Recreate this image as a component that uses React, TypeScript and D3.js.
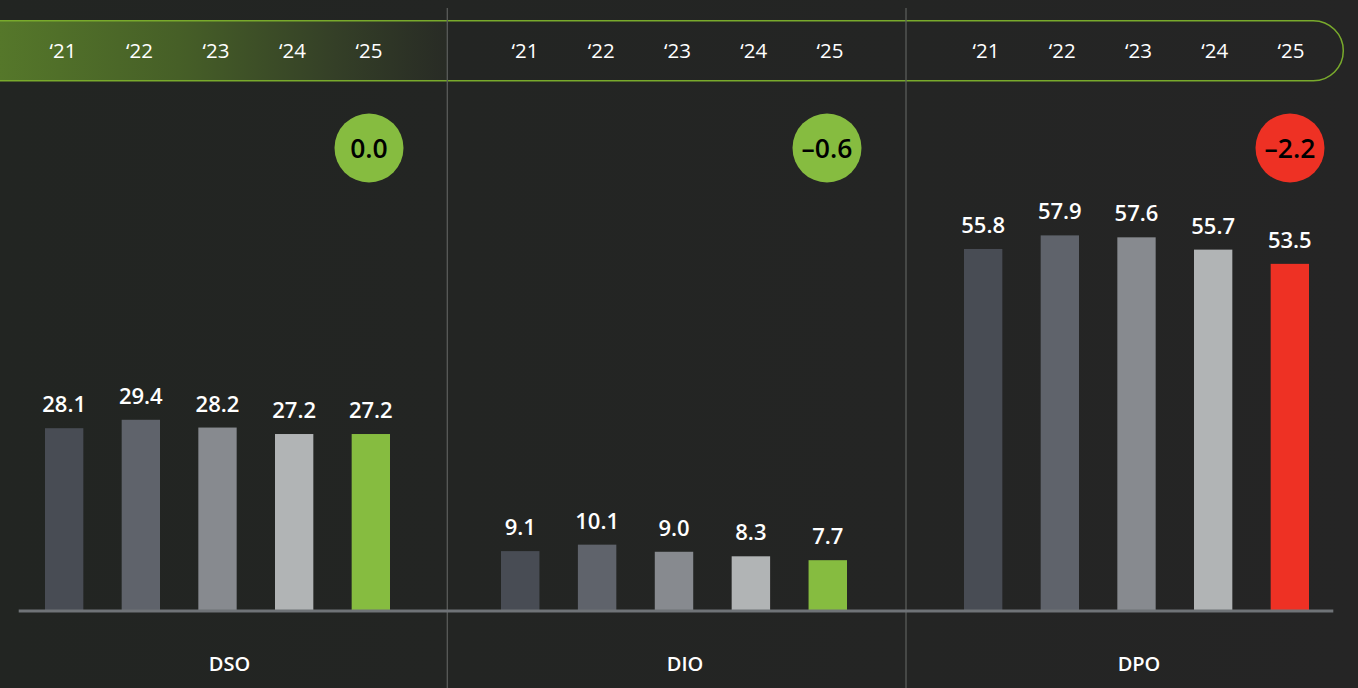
import React from "react";
import * as d3 from "d3";

// ---- data ----
const years = ["\u201821", "\u201822", "\u201823", "\u201824", "\u201825"];
const metrics = ["DSO", "DIO", "DPO"];
const dsoValues = [28.1, 29.4, 28.2, 27.2, 27.2];
const dioValues = [9.1, 10.1, 9.0, 8.3, 7.7];
const dpoValues = [55.8, 57.9, 57.6, 55.7, 53.5];
const changes = [0.0, -0.6, -2.2];

// ---- styles / layout ----
const W = 1358;
const H = 688;
const BG = "#232423";
const GREEN = "#86bc40";
const RED = "#ee3124";
const yearColors = ["#484c54", "#5f636b", "#878a8f", "#b1b4b5"];
const highlight = [GREEN, GREEN, RED];
const FONT = "'Open Sans', 'Noto Sans', sans-serif";

const panels = [
  { bars: [45, 390], head: [63, 369], label: 229.5, bubble: 369 },
  { bars: [501, 847], head: [525, 830], label: 685, bubble: 827 },
  { bars: [964, 1309], head: [986, 1291], label: 1139, bubble: 1290 },
];
const dividers = [447.3, 906];
const baseY = 610;

const y = d3.scaleLinear().domain([0, 80]).range([baseY, baseY - 80 * 6.47]);

const fmtChange = (v: number) => {
  const s = d3.format(".1f")(Math.abs(v));
  return v < 0 ? "\u2013" + s : s;
};

export default function App() {
  const seriesList = [dsoValues, dioValues, dpoValues];
  return (
    <svg
      width={W}
      height={H}
      style={{ position: "absolute", left: 0, top: 0, display: "block", background: BG }}
      fontFamily={FONT}
    >
      <defs>
        <linearGradient id="bandGrad" gradientUnits="userSpaceOnUse" x1={0} y1={0} x2={447} y2={0}>
          <stop offset="0" stopColor="#55772a" />
          <stop offset="0.4" stopColor="#465f27" />
          <stop offset="0.75" stopColor="#343f27" />
          <stop offset="1" stopColor="#282b25" />
        </linearGradient>
        <linearGradient id="bgGrad" x1="0" y1="0" x2="1" y2="0">
          <stop offset="0" stopColor="#222522" />
          <stop offset="1" stopColor="#252525" />
        </linearGradient>
      </defs>
      <rect x={0} y={0} width={W} height={H} fill="url(#bgGrad)" />

      {/* header band */}
      <rect x={0} y={21} width={447} height={59} fill="url(#bandGrad)" />
      <rect
        x={-40}
        y={20.7}
        width={1343.3 + 40}
        height={60}
        rx={30}
        ry={30}
        fill="none"
        stroke="#79aa2c"
        strokeWidth={1.5}
      />

      {/* dividers */}
      {dividers.map((dx, i) => (
        <line key={i} x1={dx} x2={dx} y1={8} y2={H} stroke="#5a5b5a" strokeWidth={1.3} />
      ))}

      {metrics.map((m, pi) => {
        const p = panels[pi];
        const values = seriesList[pi];
        const x = d3.scaleBand<string>().domain(years).range(p.bars as [number, number]).paddingInner(0.5).paddingOuter(0);
        const hx = d3.scalePoint<string>().domain(years).range(p.head as [number, number]);
        return (
          <g key={m}>
            {years.map((yr) => (
              <text
                key={"h" + yr}
                x={hx(yr)}
                y={58}
                textAnchor="middle"
                fill="#ffffff"
                fontSize={20.5}
                fontWeight={500}
              >
                {yr}
              </text>
            ))}
            {values.map((v, i) => {
              const bx = x(years[i])!;
              const fill = i < 4 ? yearColors[i] : highlight[pi];
              return (
                <g key={"b" + i}>
                  <rect x={bx} y={y(v)} width={x.bandwidth()} height={baseY - y(v)} fill={fill} />
                  <text
                    x={bx + x.bandwidth() / 2}
                    y={y(v) - 16}
                    textAnchor="middle"
                    fill="#ffffff"
                    fontSize={22}
                    fontWeight={600}
                  >
                    {d3.format(".1f")(v)}
                  </text>
                </g>
              );
            })}
            <circle cx={p.bubble} cy={148} r={34.5} fill={highlight[pi]} />
            <text
              x={p.bubble}
              y={148}
              dy="0.36em"
              textAnchor="middle"
              fill="#000000"
              fontSize={26.5}
              fontWeight={600}
            >
              {fmtChange(changes[pi])}
            </text>
            <text
              x={p.label}
              y={671}
              textAnchor="middle"
              fill="#ffffff"
              fontSize={20}
              fontWeight={600}
            >
              {m}
            </text>
          </g>
        );
      })}

      {/* baseline */}
      <line x1={18.7} x2={1333.3} y1={611} y2={611} stroke="#6f7377" strokeWidth={3} />
    </svg>
  );
}
